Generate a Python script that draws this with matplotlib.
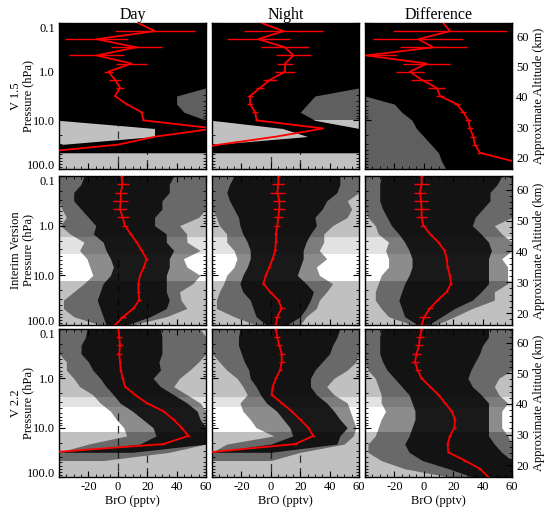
import numpy as np
import matplotlib
matplotlib.use("Agg")
import matplotlib.pyplot as plt
from matplotlib.ticker import LogLocator, MultipleLocator, NullFormatter, FixedLocator, FormatStrFormatter

plt.rcParams['font.family'] = ['Liberation Serif', 'DejaVu Serif']
plt.rcParams['axes.unicode_minus'] = False

nan = np.nan

# pressure grid (hPa), top of atmosphere first
pres = [0.1, 0.147, 0.215, 0.316, 0.464, 0.681, 1.0, 1.47, 2.15, 3.16,
        4.64, 6.81, 10.0, 14.7, 21.5, 31.6, 46.4, 68.1, 100.0]

col_titles = ["Day", "Night", "Difference"]
row_names = ["V 1.5", "Interim Version", "V 2.2"]

# ---- V 1.5 ----
v15_day_mean = [13.9, 25.3, -14.4, 12.8, -14.4, 9.4, -6.4, -1.9, 1.5, -1.9, 6.0, 16.2, 17.4, 66.0, 26.0, 0.0, -56.0, nan, nan]
v15_day_err = [0, 27, 21.5, 17.5, 18.7, 10.8, 3, 4, 3, 1, 1, 1, 1, 0, 0, 0, 0, 0, 0]
v15_day_lo_in = [-40, -40, -40, -40, -40, -40, -40, -40, -40, -40, -40, -40, -40, 25, 25, -40, -40, nan, nan]
v15_day_hi_in = [60, 60, 60, 60, 60, 60, 60, 60, 60, 40, 40, 45, 60, 60, 60, 60, 60, nan, nan]
v15_day_lo_out = [nan, nan, nan, nan, nan, nan, nan, nan, -40, -40, -40, -40, -40, nan, nan, nan, nan, nan, nan]
v15_day_hi_out = [nan, nan, nan, nan, nan, nan, nan, nan, 60, 60, 60, 60, 60, nan, nan, nan, nan, nan, nan]

v15_night_mean = [-6.2, 8.5, -8.5, 9.7, 15.3, 9.7, 9.7, -0.5, -7.3, -14.1, -14.1, -10.7, -9.6, 35.7, 4.0, -35.0, -70.0, nan, nan]
v15_night_err = [0, 27, 21.5, 16.4, 12, 5.7, 7, 4.5, 3, 2, 2, 2, 1, 0, 0, 0, 0, 0, 0]
v15_night_lo_in = [-40, -40, -40, -40, -40, -40, -40, -40, -40, -40, -40, -40, -40, 8, 25, -40, -40, nan, nan]
v15_night_hi_in = [60, 60, 60, 60, 60, 60, 60, 60, 60, 30, 25, 20, 30, 60, 60, 60, 60, nan, nan]
v15_night_lo_out = [nan, nan, nan, nan, nan, nan, nan, nan, -40, -40, -40, -40, -40, nan, nan, nan, nan, nan, nan]
v15_night_hi_out = [nan, nan, nan, nan, nan, nan, nan, nan, 60, 60, 60, 60, 60, nan, nan, nan, nan, nan, nan]

v15_diff_mean = [13.3, 17.8, -3.7, 6.5, -38.9, 2.0, -9.4, -1.5, 8.8, 11.0, 22.4, 26.9, 30.3, 31.4, 33.7, 34.8, 38.2, 59.8, 75.0]
v15_diff_err = [0, 38.5, 30.6, 23, 21, 16, 9.6, 7, 5.7, 3, 2, 2, 2, 2, 2, 2, 2, 0, 0]
v15_diff_lo_in = [-40, -40, -40, -40, -40, -40, -40, -40, -40, -40, -20, -15, -8, -5, 0, 5, 10, 12, 15]
v15_diff_hi_in = [60, 60, 60, 60, 60, 60, 60, 60, 60, 60, 60, 60, 60, 60, 60, 60, 60, 60, 60]
v15_diff_lo_out = [-40] * 19
v15_diff_hi_out = [60] * 19

# ---- Interim version ----
int_day_mean = [2.6, 3.3, 2.0, 2.0, 1.5, 3.3, 4.9, 8.8, 12.8, 16.2, 19.6, 17.8, 15.1, 14.0, 14.0, 14.6, 10.6, 3.8, -1.9]
int_day_err = [1, 4, 4, 5, 5, 4, 2, 1, 1, 1, 1, 1, 1, 1, 1, 1, 1, 2, 4]
int_day_lo_in = [-23, -25, -30, -30, -25, -20, -15, -16.6, -10, -8, -5, -3, -5, -10, -12, -14, -12, -10, -8]
int_day_hi_in = [38, 35, 35, 30, 30, 25, 25, 33, 33, 38, 35, 35, 33, 33, 33, 35, 33, 22, 6]
int_day_lo_out = [-40, -40, -40, -40, -38, -35, -39, -32.5, -23, -26, -21, -19, -17, -23, -30, -37, -37, -30, -12]
int_day_hi_out = [60, 60, 60, 60, 60, 55, 42, 46.8, 47, 56, 44.6, 47, 56, 51, 42, 43, 47, 33, 10]

int_night_mean = [5.1, 5.1, 4.4, 5.8, 5.8, 5.1, 4.4, 3.5, 3.5, 2.9, 1.3, -1.0, -3.3, -5.1, -0.5, 5.1, 7.4, 4.4, 3.5]
int_night_err = [1, 4, 5, 4, 4, 3, 2, 1, 1, 1, 1, 1, 1, 1, 1, 1, 2, 2, 4]
int_night_lo_in = [-25, -28, -30, -28, -25, -22, -21, -19, -16, -14, -14, -16, -19, -21, -19, -14, -12, -10, -3]
int_night_hi_in = [47, 47, 45, 38, 35, 30, 31, 27, 24, 22, 22, 20, 18, 24, 29, 27, 24, 20, 11]
int_night_lo_out = [-40, -40, -40, -40, -40, -37, -35, -30, -30, -25, -23, -25, -30, -32, -35, -37, -37, -25, -10]
int_night_hi_out = [60, 60, 60, 52, 55, 52, 42, 36, 36, 33, 38, 31, 33, 42, 38, 33, 31, 24, 20]

int_diff_mean = [-1.5, -1.5, -2.6, -1.9, -1.5, -1.5, -0.3, 4.2, 9.9, 14.0, 15.6, 16.2, 17.8, 18.5, 15.6, 9.4, 4.2, 0.4, -1.5]
int_diff_err = [1, 5, 4, 5, 5, 4, 2, 1, 1, 1, 1, 1, 1, 1, 1, 1, 2, 4, 5]
int_diff_lo_in = [-29, -30, -30, -30, -28, -25, -22, -17, -13, -10, -8, -8, -10, -13, -15, -17, -15, -13, -4]
int_diff_hi_in = [53, 50, 45, 45, 40, 35, 33, 39, 44, 46, 44, 44, 44, 44, 39, 33, 21, 12, 3]
int_diff_lo_out = [-40, -40, -40, -40, -40, -38, -33, -31, -24, -26, -24, -24, -29, -31, -33, -33, -29, -24, -8]
int_diff_hi_out = [60, 60, 60, 60, 60, 60, 48, 53, 60, 60, 53, 57, 57, 57, 48, 48, 33, 21, 8]

# ---- V 2.2 ----
v22_day_mean = [0.4, 1.0, 1.5, 1.0, 1.5, 2.0, 3.3, 4.9, 11.7, 19.6, 31.0, 37.8, 43.4, 48.0, 31.0, -45.0, nan, nan, nan]
v22_day_err = [0, 2, 2, 2, 1, 1, 1, 1, 1, 1, 1, 1, 1, 1, 1, 0, 0, 0, 0]
v22_day_lo_in = [-21, -22, -25, -25, -20, -17, -12, -8, -3, 1.5, 10, 17, 24, 26, 15, -40, nan, nan, nan]
v22_day_hi_in = [29, 30, 30, 30, 28, 29, 24, 29, 38, 47, 54, 56, 60, 60, 60, 10, nan, nan, nan]
v22_day_lo_out = [-40, -40, -40, -40, -35, -35, -30, -26, -17, -12, -5, -1, 4, 6, -20, -40, -40, nan, nan]
v22_day_hi_out = [56, 60, 60, 60, 55, 49, 42, 38, 47, 56, 60, 60, 60, 60, 60, 35, -10, nan, nan]

v22_night_mean = [3.5, 4.4, 5.8, 7.4, 7.4, 6.3, 3.5, 1.3, 0.6, 7.4, 14.2, 19.9, 25.5, 28.9, 16.5, -42.0, nan, nan, nan]
v22_night_err = [1, 2, 2, 2, 2, 1, 1, 1, 1, 1, 1, 1, 1, 1, 1, 0, 0, 0, 0]
v22_night_lo_in = [-21, -22, -22, -20, -18, -15, -14, -10, -7, -3, 4, 8.5, 13, 15, 0, -40, nan, nan, nan]
v22_night_hi_in = [47, 45, 42, 40, 35, 30, 27, 27, 31, 38, 43, 47, 52, 47, 45, 0, nan, nan, nan]
v22_night_lo_out = [-40, -40, -40, -40, -35, -30, -23, -19, -16, -21, -19, -14, -10, 2, -30, -40, -40, nan, nan]
v22_night_hi_out = [60, 60, 60, 60, 58, 52, 43, 38, 43, 52, 54, 56, 58, 56, 50, 20, 0, nan, nan]

v22_diff_mean = [-1.5, -2.6, -3.3, -4.9, -6.0, -4.2, -1.5, 4.2, 9.9, 14.4, 19.0, 21.2, 20.8, 17.8, 16.2, 16.7, 28.0, 38.2, 43.9]
v22_diff_err = [1, 3, 3, 3, 3, 2, 1, 1, 1, 1, 1, 1, 1, 1, 1, 1, 1, 1, 1]
v22_diff_lo_in = [-29, -30, -30, -30, -28, -25, -20, -15, -10, -8, -6, -6, -8, -10, -13, -10, -1, 17, 33]
v22_diff_hi_in = [44, 44, 40, 38, 35, 32, 30, 33, 39, 44, 44, 44, 44, 44, 48, 53, 60, 60, 60]
v22_diff_lo_out = [-40, -40, -40, -40, -40, -38, -33, -31, -29, -29, -26, -29, -31, -33, -38, -38, -29, -13, 17]
v22_diff_hi_out = [60, 60, 60, 60, 60, 60, 51, 48, 51, 57, 53, 53, 53, 57, 60, 60, 60, 60, 60]

panels = [
    [(v15_day_mean, v15_day_err, v15_day_lo_in, v15_day_hi_in, v15_day_lo_out, v15_day_hi_out),
     (v15_night_mean, v15_night_err, v15_night_lo_in, v15_night_hi_in, v15_night_lo_out, v15_night_hi_out),
     (v15_diff_mean, v15_diff_err, v15_diff_lo_in, v15_diff_hi_in, v15_diff_lo_out, v15_diff_hi_out)],
    [(int_day_mean, int_day_err, int_day_lo_in, int_day_hi_in, int_day_lo_out, int_day_hi_out),
     (int_night_mean, int_night_err, int_night_lo_in, int_night_hi_in, int_night_lo_out, int_night_hi_out),
     (int_diff_mean, int_diff_err, int_diff_lo_in, int_diff_hi_in, int_diff_lo_out, int_diff_hi_out)],
    [(v22_day_mean, v22_day_err, v22_day_lo_in, v22_day_hi_in, v22_day_lo_out, v22_day_hi_out),
     (v22_night_mean, v22_night_err, v22_night_lo_in, v22_night_hi_in, v22_night_lo_out, v22_night_hi_out),
     (v22_diff_mean, v22_diff_err, v22_diff_lo_in, v22_diff_hi_in, v22_diff_lo_out, v22_diff_hi_out)],
]

GRAY = "#c0c0c0"
LIGHT = "#e2e2e2"
# background bands (top pressure, bottom pressure, colour) per row
row_bands = [
    [(0.1, 100, GRAY)],
    [(0.1, 1.69, GRAY), (1.69, 3.7, LIGHT), (3.7, 12.9, "white"), (12.9, 100, GRAY)],
    [(0.1, 2.4, GRAY), (2.4, 3.8, LIGHT), (3.8, 12.3, "white"), (12.3, 100, GRAY)],
]
# opacity of the dense core / sparse outer cloud of profiles per row
row_alpha = [(1.0, 0.5), (0.82, 0.45), (0.82, 0.45)]


def p2z(p):
    p = np.clip(np.asarray(p, dtype=float), 1e-6, None)
    return 7.0 * np.log(1000.0 / p)


def z2p(z):
    return 1000.0 * np.exp(-np.asarray(z, dtype=float) / 7.0)


W, H = 546, 507
fig = plt.figure(figsize=(W / 100, H / 100), dpi=100)
fig.patch.set_facecolor("white")

col_x = [59, 212, 365]
row_y = [23, 176, 329]
row_h = [146, 149, 148]
pw = 147

for r in range(3):
    for c in range(3):
        ax = fig.add_axes([col_x[c] / W, 1 - (row_y[r] + row_h[r]) / H, pw / W, row_h[r] / H])
        mean, err, lo_in, hi_in, lo_out, hi_out = panels[r][c]
        a_in, a_out = row_alpha[r]

        for top, bot, colr in row_bands[r]:
            ax.axhspan(top, bot, color=colr, lw=0, zorder=0)

        if c < 2:
            ax.plot([0, 0], [5 if c == 0 else 30, 100], ls=(0, (6, 4)), color="#333333", lw=0.9, zorder=1)
            ax.plot([20, 20], [35, 90], ls=(0, (6, 4)), color="#333333", lw=0.9, zorder=1)

        ax.fill_betweenx(pres, lo_out, hi_out, color="black", alpha=a_out, lw=0, zorder=2)
        ax.fill_betweenx(pres, lo_in, hi_in, color="black", alpha=a_in, lw=0, zorder=3)

        ax.errorbar(mean, pres, xerr=err, color="red", lw=1.3, elinewidth=1.0, capsize=0, zorder=5)

        ax.set_yscale("log")
        ax.set_ylim(100, 0.1)
        ax.set_xlim(-40, 60)
        ax.set_yticks([0.1, 1, 10, 100])
        ax.yaxis.set_minor_locator(LogLocator(base=10, subs=np.arange(2, 10)))
        ax.yaxis.set_minor_formatter(NullFormatter())
        ax.set_xticks([-40, -20, 0, 20, 40, 60])
        ax.xaxis.set_minor_locator(MultipleLocator(5))
        ax.tick_params(which="both", direction="in", top=True, right=(c < 2), labelsize=9, pad=3)
        ax.tick_params(which="major", length=4, width=0.8)
        ax.tick_params(which="minor", length=2, width=0.6)
        for s in ax.spines.values():
            s.set_linewidth(1.0)

        if c == 0:
            labs = ax.set_yticklabels(["0.1", "1.0", "10.0", "100.0"])
            labs[0].set_va("top")
            labs[-1].set_va("baseline")
            ax.set_ylabel(row_names[r] + "\nPressure (hPa)", fontsize=9, linespacing=1.0)
            ax.yaxis.set_label_coords(-0.17, 0.5)
        else:
            ax.set_yticklabels([])
        if r == 2:
            ax.set_xticklabels(["", "-20", "0", "20", "40", "60"])
            ax.set_xlabel("BrO (pptv)", fontsize=9, labelpad=1)
        else:
            ax.set_xticklabels([])
        if r == 0:
            ax.set_title(col_titles[c], fontsize=11.5, pad=3)

        if c == 2:
            sec = ax.secondary_yaxis("right", functions=(p2z, z2p))
            sec.yaxis.set_major_locator(FixedLocator([20, 30, 40, 50, 60]))
            sec.yaxis.set_major_formatter(FormatStrFormatter("%d"))
            sec.yaxis.set_minor_locator(MultipleLocator(2))
            sec.yaxis.set_minor_formatter(NullFormatter())
            sec.tick_params(which="both", direction="in", labelsize=9, pad=3)
            sec.tick_params(which="major", length=4, width=0.8)
            sec.tick_params(which="minor", length=2, width=0.6)
            sec.set_ylabel("Approximate Altitude (km)", fontsize=9, labelpad=3)

fig.savefig("out.png", dpi=100)
